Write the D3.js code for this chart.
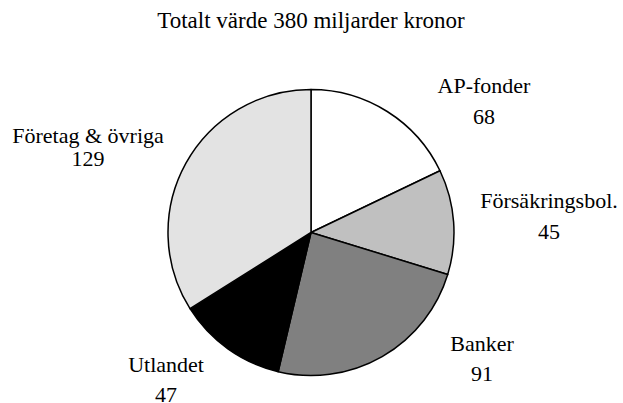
<!DOCTYPE html>
<html>
<head>
<meta charset="utf-8">
<script src="https://cdn.jsdelivr.net/npm/d3@7"></script>
</head>
<body style="margin:0">
<script>
//Categories and values (miljarder kronor)
var categories = ["AP-fonder", "Försäkringsbol.", "Banker", "Utlandet", "Företag & övriga"];
var values = [68, 45, 91, 47, 129];
var fills = ["#ffffff", "#c0c0c0", "#808080", "#000000", "#e3e3e3"];
var title = "Totalt värde 380 miljarder kronor";

//Label anchors, relative to pie centre
var labelOffsets = [[173, -140], [238, -25], [171, 118], [-145, 139], [-223, -90]];
var lineGaps = [31, 31, 30, 30, 23];

var width = 623, height = 403;
var cx = 311, cy = 232.5, radius = 143;
var font = "'Liberation Serif'";

var svg = d3.select("body").append("svg")
  .attr("width", width)
  .attr("height", height);

svg.append("text")
  .attr("x", cx)
  .attr("y", 28)
  .attr("text-anchor", "middle")
  .attr("font-size", 23)
  .style("font-family", font)
  .text(title);

var data = categories.map(function(c, i) {
  return {name: c, value: values[i], fill: fills[i], off: labelOffsets[i], gap: lineGaps[i]};
});

var pie = d3.pie().sort(null).value(function(d) { return d.value; });
var arc = d3.arc().innerRadius(0).outerRadius(radius);

var g = svg.append("g").attr("transform", "translate(" + cx + "," + cy + ")");

g.selectAll("path")
  .data(pie(data))
  .enter().append("path")
  .attr("d", arc)
  .style("fill", function(d) { return d.data.fill; })
  .style("stroke", "#000")
  .style("stroke-width", 1.5)
  .style("stroke-linejoin", "round");

//Two text lines per slice: name and value
var labels = g.selectAll(".lbl")
  .data(data)
  .enter().append("text")
  .attr("class", "lbl")
  .attr("text-anchor", "middle")
  .attr("font-size", 22)
  .style("font-family", font)
  .attr("transform", function(d) { return "translate(" + d.off[0] + "," + d.off[1] + ")"; });

labels.append("tspan").attr("x", 0).attr("y", 0).text(function(d) { return d.name; });
labels.append("tspan").attr("x", 0).attr("y", function(d) { return d.gap; }).text(function(d) { return d.value; });
</script>
</body>
</html>
